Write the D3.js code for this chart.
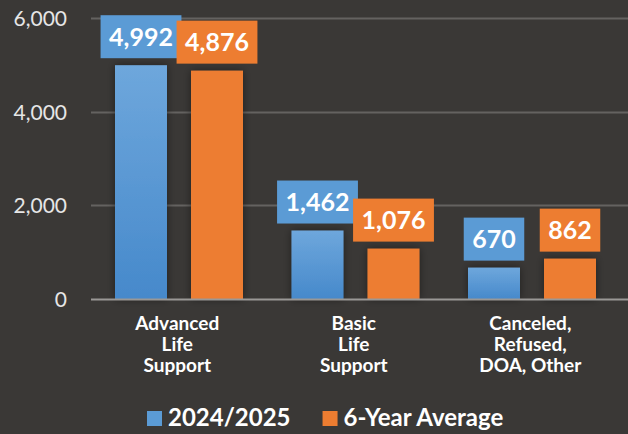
<!DOCTYPE html>
<html><head><meta charset="utf-8">
<script src="https://cdn.jsdelivr.net/npm/d3@7"></script>
<style>
html,body{margin:0;padding:0;background:#3a3836;}
svg{display:block;}
</style></head>
<body>
<svg id="chart" width="628" height="434"></svg>
<script>
const categories = [["Advanced","Life","Support"],["Basic","Life","Support"],["Canceled,","Refused,","DOA, Other"]];
const seriesNames = ["2024/2025","6-Year Average"];
const current = [4992, 1462, 670];
const average = [4876, 1076, 862];
const yTicks = [0, 2000, 4000, 6000];
const colors = ["#5b9bd5","#ed7d31"];

const svg = d3.select("#chart");
const W = 628, H = 434;
svg.append("rect").attr("width",W).attr("height",H).attr("fill","#3a3836");

const defs = svg.append("defs");
const grad = defs.append("linearGradient").attr("id","blueGrad").attr("x1",0).attr("y1",0).attr("x2",0).attr("y2",1);
grad.append("stop").attr("offset","0%").attr("stop-color","#6ea7dc");
grad.append("stop").attr("offset","100%").attr("stop-color","#4689cb");
const f = defs.append("filter").attr("id","shadow").attr("x","-30%").attr("y","-30%").attr("width","160%").attr("height","160%");
f.append("feGaussianBlur").attr("in","SourceAlpha").attr("stdDeviation",4).attr("result","b");
f.append("feOffset").attr("in","b").attr("dx",0).attr("dy",0).attr("result","o");
f.append("feComponentTransfer").attr("in","o").attr("result","s").append("feFuncA").attr("type","linear").attr("slope",0.45);
const fm = f.append("feMerge"); fm.append("feMergeNode").attr("in","s"); fm.append("feMergeNode").attr("in","SourceGraphic");

const x0 = d3.scaleBand().domain(d3.range(categories.length)).range([91, 620.5]);
const x1 = d3.scaleBand().domain(d3.range(seriesNames.length)).range([24, 152]).paddingInner(0.316);
const y = d3.scaleLinear().domain([0, 6000]).range([299, 18]);

// gridlines
const yAxis = d3.axisLeft(y).tickValues(yTicks).tickFormat(d3.format(",")).tickSize(0).tickPadding(24);
const ga = svg.append("g").attr("transform","translate(91,0)").call(yAxis);
ga.select(".domain").remove();
ga.selectAll("text").attr("fill","#e6e6e6").style("font-family","Lato, 'Open Sans', sans-serif").style("font-size","21px").attr("dy","0.36em");
svg.append("g").selectAll("line").data(yTicks.filter(d=>d>0)).join("line")
  .attr("x1",91).attr("x2",W).attr("y1",d=>Math.round(y(d))+0.5).attr("y2",d=>Math.round(y(d))+0.5)
  .attr("stroke","#646260").attr("stroke-width",2);

const data = [current, average];
// bars
const barsG = svg.append("g");
data.forEach((vals, s) => {
  barsG.selectAll(null).data(vals).join("rect")
    .attr("x",(d,i)=>x0(i)+x1(s))
    .attr("y",d=>y(d))
    .attr("width",x1.bandwidth())
    .attr("height",d=>y(0)-y(d))
    .attr("fill", s===0 ? "url(#blueGrad)" : colors[1])
    .attr("filter","url(#shadow)");
});
// baseline
svg.append("line").attr("x1",91).attr("x2",W).attr("y1",y(0)+0.5).attr("y2",y(0)+0.5).attr("stroke","#9a9896").attr("stroke-width",2);

// value labels
const fmt = d3.format(",");
const labG = svg.append("g");
data.forEach((vals, s) => {
  vals.forEach((v, i) => {
    const cx = x0(i)+x1(s)+x1.bandwidth()/2;
    const bottom = y(v) - 7;
    const g = labG.append("g");
    const t = g.append("text").text(fmt(v))
      .attr("x",cx).attr("y",bottom-21.5).attr("text-anchor","middle").attr("dy","0.36em")
      .attr("fill","#ffffff").style("font-family","Lato, 'Open Sans', sans-serif").style("font-weight","700").style("font-size","25px");
    const w = t.node().getComputedTextLength();
    g.insert("rect","text").attr("x",cx-w/2-8.5).attr("y",bottom-43).attr("width",w+17).attr("height",43).attr("fill",colors[s]);
  });
});

// category labels
const catG = svg.append("g");
categories.forEach((lines, i) => {
  const cx = x0(i)+x0.bandwidth()/2 - 2;
  const t = catG.append("text").attr("text-anchor","middle").attr("fill","#ffffff")
    .style("font-family","Lato, 'Open Sans', sans-serif").style("font-weight","700").style("font-size","19px");
  lines.forEach((ln, k) => t.append("tspan").attr("x",cx).attr("y",330 + k*21).text(ln));
});

// legend
const leg = svg.append("g");
let lx = 147;
seriesNames.forEach((n, s) => {
  leg.append("rect").attr("x",lx).attr("y",411).attr("width",15).attr("height",15).attr("fill",colors[s]);
  const t = leg.append("text").attr("x",lx+21).attr("y",426).text(n).attr("fill","#ffffff")
    .style("font-family","Lato, 'Open Sans', sans-serif").style("font-weight","700").style("font-size","24px");
  lx += 21 + t.node().getComputedTextLength() + 32;
});
</script>
</body></html>
